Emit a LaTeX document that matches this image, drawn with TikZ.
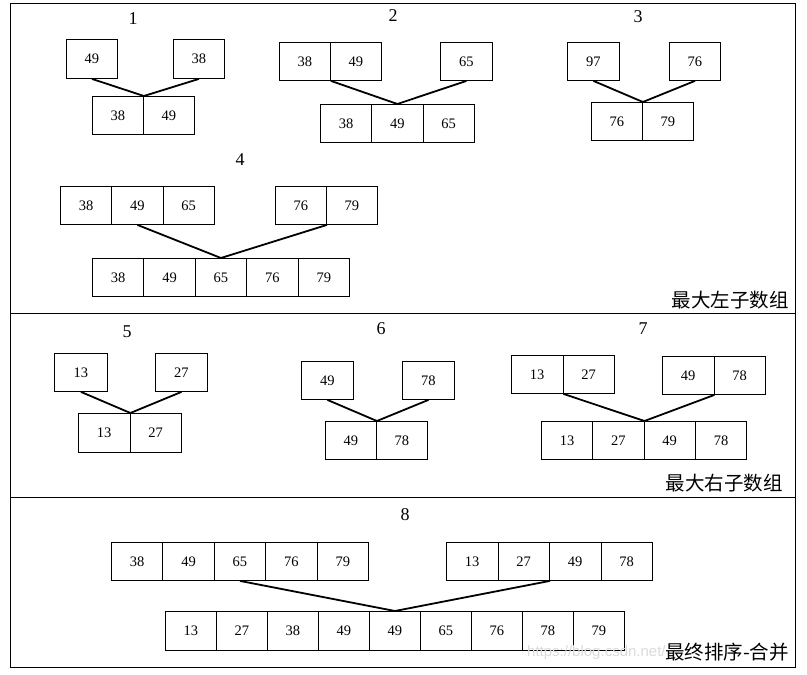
\documentclass[tikz,border=0pt]{standalone}
\usepackage{fontspec}
\setmainfont{Liberation Serif}
\newfontfamily\cjk{Noto Sans CJK SC}
\newfontfamily\wmfont{Liberation Sans}
\begin{document}
\begin{tikzpicture}[x=1pt,y=-1pt,
  cell/.style={draw, line width=0.9pt, inner sep=0pt, anchor=north west,
    font=\fontsize{14.5}{16}\selectfont},
  link/.style={line width=1.8pt},
  steplabel/.style={font=\fontsize{18}{20}\selectfont},
  zhlabel/.style={font=\cjk\fontsize{19.5}{21}\selectfont, anchor=east, inner sep=0pt},
  frame/.style={line width=1pt}]
\useasboundingbox (0,0) rectangle (807,675);
% cell row macro: prefix, x0, y0, width, height, list
\newcommand{\cellrow}[6]{%
  \foreach \v [count=\i] in {#6} {%
    \node[cell, minimum width=#4pt, minimum height=#5pt] (#1\i) at ({#2+(\i-1)*#4}, #3) {\v};
  }%
}
% frame
\draw[frame] (10,3) rectangle (795,667);
\coordinate (d1l) at (10,313); \coordinate (d1r) at (795,313);
\coordinate (d2l) at (10,497); \coordinate (d2r) at (795,497);
\draw[frame] (d1l) -- (d1r);
\draw[frame] (d2l) -- (d2r);

% step labels
\node[steplabel] (s1) at (133,19) {1};
\node[steplabel] (s2) at (393,16) {2};
\node[steplabel] (s3) at (638,17) {3};
\node[steplabel] (s4) at (240,160) {4};
\node[steplabel] (s5) at (127,332) {5};
\node[steplabel] (s6) at (381,329) {6};
\node[steplabel] (s7) at (643,329) {7};
\node[steplabel] (s8) at (405,515) {8};

% section 1
\cellrow{ta}{66}{39}{51}{39}{49}
\cellrow{tb}{173}{39}{51}{39}{38}
\cellrow{ba}{92}{96}{51}{38}{38,49}
\draw[link] (ta1.south) -- (ba1.north east) -- (tb1.south);

% section 2
\cellrow{tc}{279}{42}{51}{38}{38,49}
\cellrow{td}{440}{42}{52}{38}{65}
\cellrow{bb}{320}{104}{51.3}{38}{38,49,65}
\draw[link] (tc1.south east) -- (bb2.north) -- (td1.south);

% section 3
\cellrow{te}{567}{42}{52}{38}{97}
\cellrow{tf}{669}{42}{51}{38}{76}
\cellrow{bc}{591}{102}{51}{38}{76,79}
\draw[link] (te1.south) -- (bc1.north east) -- (tf1.south);

% section 4
\cellrow{tg}{60}{186}{51.3}{38}{38,49,65}
\cellrow{th}{275}{186}{51}{38}{76,79}
\cellrow{bd}{92}{258}{51.4}{38}{38,49,65,76,79}
\draw[link] (tg2.south) -- (bd3.north) -- (th1.south east);

\node[zhlabel] (zl1) at (789,300) {最大左子数组};

% section 5
\cellrow{ti}{54}{353}{53}{38}{13}
\cellrow{tj}{155}{353}{52}{38}{27}
\cellrow{be}{78}{413}{51.5}{39}{13,27}
\draw[link] (ti1.south) -- (be1.north east) -- (tj1.south);

% section 6
\cellrow{tk}{301}{361}{52}{38}{49}
\cellrow{tl}{402}{361}{52}{38}{78}
\cellrow{bf}{325}{421}{51}{38}{49,78}
\draw[link] (tk1.south) -- (bf1.north east) -- (tl1.south);

% section 7
\cellrow{tm}{511}{355}{51.5}{38}{13,27}
\cellrow{tn}{662}{356}{51.5}{38}{49,78}
\cellrow{bg}{541}{421}{51.3}{38}{13,27,49,78}
\draw[link] (tm1.south east) -- (bg2.north east) -- (tn1.south east);

\node[zhlabel] (zl2) at (783,483) {最大右子数组};

% section 8
\cellrow{to}{111}{542}{51.4}{38}{38,49,65,76,79}
\cellrow{tp}{446}{542}{51.5}{38}{13,27,49,78}
\cellrow{bh}{165}{611}{51}{39}{13,27,38,49,49,65,76,78,79}
\draw[link] (to3.south) -- (bh5.north) -- (tp2.south east);

\node[font=\wmfont\fontsize{15}{16}\selectfont, text=black!14, anchor=west, inner sep=0pt] (wm) at (527,653) {https://blog.csdn.net/};
\node[zhlabel] (zl3) at (789,652) {最终排序-合并};
\end{tikzpicture}
\end{document}
